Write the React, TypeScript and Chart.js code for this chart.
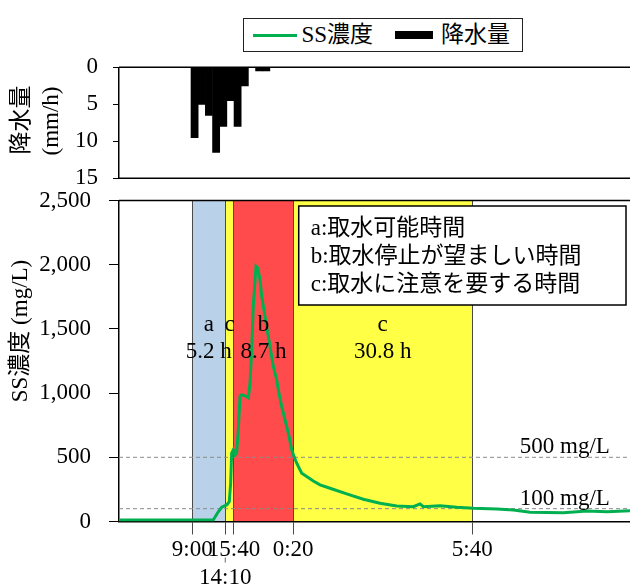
import React, { useEffect, useRef } from 'react';
import { Chart, registerables } from 'chart.js';

Chart.register(...registerables);

// ---------------- data ----------------
// x unit: hours after 9:00 as read along the time axis
const tickX = [0, 5.27, 6.66, 16.1, 44.7];
const tickLabels = ['9:00', '14:10', '15:40', '0:20', '5:40'];

// precipitation (mm/h)
const rainX = [0.37, 1.52, 2.66, 3.81, 4.95, 6.1, 7.24, 8.39, 9.53, 10.68, 11.82];
const rainMm = [9.5, 5.0, 6.5, 11.5, 8.0, 4.5, 8.0, 2.5, 0, 0.5, 0.5];

// SS concentration (mg/L)
const ssX = [-11.7, 3.35, 4.15, 4.7, 5.5, 5.91, 6.13, 6.29, 6.55, 6.82, 7.09, 7.35, 7.62, 7.89, 8.42, 8.95, 9.22, 9.49, 9.74, 10.18, 10.45, 10.81, 11.09, 11.61, 12.14, 12.94, 13.48, 13.74, 14.28, 14.81, 15.34, 15.88, 16.25, 16.68, 17.48, 18.27, 19.33, 20.4, 22.0, 24.66, 27.32, 29.98, 32.65, 35.3, 36.37, 36.9, 39.57, 42.24, 44.89, 48.63, 51.28, 53.95, 59.27, 63.0, 66.2, 69.9];
const ssVal = [12, 12, 76, 111, 129, 154, 298, 532, 558, 519, 534, 714, 973, 987, 979, 963, 1078, 1338, 1676, 1988, 1975, 1884, 1754, 1598, 1442, 1208, 1104, 1026, 895, 792, 688, 558, 505, 454, 376, 350, 315, 285, 259, 215, 173, 142, 121, 115, 137, 115, 123, 111, 103, 98, 90, 72, 69, 82, 76, 84];

// periods between consecutive ticks
const regionKinds = ['a', 'c', 'b', 'c'];
const regionDurations = ['5.2 h', '', '8.7 h', '30.8 h'];

const thresholds = [500, 100];
const thresholdLabels = ['500 mg/L', '100 mg/L'];

const infoLines = ['a:取水可能時間', 'b:取水停止が望ましい時間', 'c:取水に注意を要する時間'];

const X_MIN = -11.7;
const X_MAX = 69.9;

// ---------------- styles ----------------
const FONT = "'Liberation Serif', 'Times New Roman', 'Noto Sans CJK JP', serif";
const FS = 23;
const GREEN = '#00B050';
const REGION_COLORS: Record<string, string> = { a: '#BAD1EA', b: '#FF4B4B', c: '#FFFF45' };

const W = 630;
const TOP_H = 196;
const BOT_TOP = 180;
const BOT_H = 405;

const noPad = (s: any) => {
  s.paddingTop = 0;
  s.paddingBottom = 0;
  s.paddingLeft = 0;
  s.paddingRight = 0;
};

const topPlugin = {
  id: 'topDecor',
  afterDraw(chart: any) {
    const { ctx, chartArea: ca } = chart;
    ctx.save();
    ctx.strokeStyle = '#000';
    ctx.lineWidth = 1.5;
    ctx.beginPath();
    ctx.moveTo(ca.left, ca.top);
    ctx.lineTo(ca.right, ca.top);
    ctx.moveTo(ca.left, ca.bottom);
    ctx.lineTo(ca.right, ca.bottom);
    ctx.stroke();
    ctx.fillStyle = '#000';
    ctx.font = `${FS}px ${FONT}`;
    ctx.textAlign = 'center';
    ctx.textBaseline = 'middle';
    ctx.save();
    ctx.translate(22, 120);
    ctx.rotate(-Math.PI / 2);
    ctx.fillText('降水量', 0, 0);
    ctx.restore();
    ctx.save();
    ctx.translate(52, 121);
    ctx.rotate(-Math.PI / 2);
    ctx.fillText('(mm/h)', 0, 0);
    ctx.restore();
    ctx.restore();
  },
};

const bottomPlugin = {
  id: 'ssDecor',
  beforeDraw(chart: any) {
    const { ctx, chartArea: ca, scales } = chart;
    const x = scales.x;
    ctx.save();
    regionKinds.forEach((k, i) => {
      const x0 = x.getPixelForValue(tickX[i]);
      const x1 = x.getPixelForValue(tickX[i + 1]);
      ctx.fillStyle = REGION_COLORS[k];
      ctx.fillRect(x0, ca.top, x1 - x0, ca.bottom - ca.top);
    });
    ctx.restore();
  },
  afterDraw(chart: any) {
    const { ctx, chartArea: ca, scales } = chart;
    const x = scales.x;
    const y = scales.y;
    ctx.save();
    // top frame line
    ctx.strokeStyle = '#000';
    ctx.lineWidth = 1.5;
    ctx.beginPath();
    ctx.moveTo(ca.left, ca.top);
    ctx.lineTo(ca.right, ca.top);
    ctx.stroke();

    ctx.fillStyle = '#000';
    ctx.font = `${FS}px ${FONT}`;
    ctx.textAlign = 'center';
    ctx.textBaseline = 'middle';
    // period labels
    regionKinds.forEach((k, i) => {
      const cx = (x.getPixelForValue(tickX[i]) + x.getPixelForValue(tickX[i + 1])) / 2;
      ctx.fillText(k, cx, y.getPixelForValue(1530));
      if (regionDurations[i]) ctx.fillText(regionDurations[i], cx, y.getPixelForValue(1320));
    });
    // threshold labels
    ctx.textBaseline = 'alphabetic';
    thresholds.forEach((t, i) => {
      ctx.fillText(thresholdLabels[i], x.getPixelForValue(59.5), y.getPixelForValue(t) - 4);
    });
    // info box
    const bx = x.getPixelForValue(17.0);
    const by = ca.top + 5.5;
    const bw = ca.right - 4 - bx;
    const bh = 99;
    ctx.fillStyle = '#fff';
    ctx.fillRect(bx, by, bw, bh);
    ctx.strokeStyle = '#000';
    ctx.lineWidth = 1.5;
    ctx.strokeRect(bx, by, bw, bh);
    ctx.fillStyle = '#000';
    ctx.textAlign = 'left';
    ctx.textBaseline = 'middle';
    infoLines.forEach((line, i) => {
      ctx.fillText(line, bx + 12, by + 23 + i * 28);
    });
    // small mark above the second-row tick label
    const mx = x.getPixelForValue(tickX[1]);
    ctx.strokeStyle = '#666';
    ctx.lineWidth = 1;
    ctx.beginPath();
    ctx.moveTo(mx, ca.bottom + 36);
    ctx.lineTo(mx, ca.bottom + 41);
    ctx.stroke();
    // y title
    ctx.textAlign = 'center';
    ctx.save();
    ctx.translate(21, 331 - BOT_TOP);
    ctx.rotate(-Math.PI / 2);
    ctx.fillText('SS濃度 (mg/L)', 0, 0);
    ctx.restore();
    ctx.restore();
  },
};

function TopChart() {
  const ref = useRef<HTMLCanvasElement>(null);
  useEffect(() => {
    const chart = new Chart(ref.current!, {
      type: 'bar',
      data: {
        datasets: [
          {
            label: '降水量',
            data: rainX.map((v, i) => ({ x: v, y: rainMm[i] })),
            backgroundColor: '#000',
            borderWidth: 0,
            barPercentage: 1,
            categoryPercentage: 1,
          },
        ],
      },
      options: {
        responsive: false,
        animation: false,
        layout: { padding: { top: 67.3, bottom: TOP_H - 178.3, left: 0, right: 0 } },
        plugins: { legend: { display: false }, tooltip: { enabled: false } },
        scales: {
          x: { type: 'linear', min: X_MIN, max: X_MAX, display: false, offset: false },
          y: {
            reverse: true,
            min: 0,
            max: 15,
            afterFit: (s: any) => { s.width = 119; noPad(s); },
            ticks: { stepSize: 5, padding: 15, color: '#000', font: { family: FONT, size: FS } },
            grid: { drawOnChartArea: false, tickLength: 6, color: '#000' },
            border: { color: '#000', width: 1.5 },
          },
        },
      },
      plugins: [topPlugin],
    } as any);
    return () => chart.destroy();
  }, []);
  return (
    <canvas ref={ref} width={W} height={TOP_H} style={{ position: 'absolute', left: 0, top: 0 }} />
  );
}

function BottomChart() {
  const ref = useRef<HTMLCanvasElement>(null);
  useEffect(() => {
    const chart = new Chart(ref.current!, {
      type: 'line',
      data: {
        datasets: [
          {
            label: 'SS濃度',
            data: ssX.map((v, i) => ({ x: v, y: ssVal[i] })),
            borderColor: GREEN,
            borderWidth: 3,
            pointRadius: 0,
            tension: 0,
            order: 1,
          },
          ...thresholds.map((t) => ({
            label: `${t}`,
            data: [{ x: X_MIN, y: t }, { x: X_MAX, y: t }],
            borderColor: '#8a8a8a',
            borderWidth: 1,
            borderDash: [4, 3],
            pointRadius: 0,
            order: 2,
          })),
        ],
      },
      options: {
        responsive: false,
        animation: false,
        layout: { padding: { top: 200.5 - BOT_TOP, left: 0, right: 0, bottom: 0 } },
        plugins: { legend: { display: false }, tooltip: { enabled: false } },
        scales: {
          x: {
            type: 'linear',
            min: X_MIN,
            max: X_MAX,
            afterFit: (s: any) => { s.height = 585 - 521.5; noPad(s); },
            afterBuildTicks: (s: any) => { s.ticks = tickX.map((v) => ({ value: v })); },
            ticks: {
              autoSkip: false,
              maxRotation: 0,
              padding: 2,
              color: '#000',
              font: { family: FONT, size: FS },
              callback: (_v: any, i: number) => (i === 1 ? ['', tickLabels[i]] : tickLabels[i]),
            },
            grid: { drawOnChartArea: true, tickLength: 13, color: '#4a4a4a', lineWidth: 1 },
            border: { color: '#000', width: 1.5 },
          },
          y: {
            min: 0,
            max: 2500,
            afterFit: (s: any) => { s.width = 119; noPad(s); },
            ticks: {
              stepSize: 500,
              padding: 18,
              color: '#000',
              font: { family: FONT, size: FS },
              callback: (v: any) => Number(v).toLocaleString('en-US'),
            },
            grid: { drawOnChartArea: false, tickLength: 10, color: '#000' },
            border: { color: '#000', width: 1.5 },
          },
        },
      },
      plugins: [bottomPlugin],
    } as any);
    return () => chart.destroy();
  }, []);
  return (
    <canvas ref={ref} width={W} height={BOT_H} style={{ position: 'absolute', left: 0, top: BOT_TOP }} />
  );
}

function Legend() {
  return (
    <div
      style={{
        position: 'absolute',
        left: 243,
        top: 18,
        width: 280,
        height: 34,
        boxSizing: 'border-box',
        border: '1.5px solid #222',
        display: 'flex',
        alignItems: 'center',
        fontFamily: FONT,
        fontSize: FS,
        color: '#000',
        whiteSpace: 'nowrap',
        background: '#fff',
      }}
    >
      <span style={{ display: 'inline-block', width: 44, height: 3, background: GREEN, marginLeft: 8.5 }} />
      <span style={{ marginLeft: 5, lineHeight: '30px' }}>SS濃度</span>
      <span style={{ display: 'inline-block', width: 38, height: 8, background: '#000', marginLeft: 22 }} />
      <span style={{ marginLeft: 8, lineHeight: '30px' }}>降水量</span>
    </div>
  );
}

export default function App() {
  return (
    <div style={{ position: 'absolute', left: 0, top: 0, width: W, height: 585, background: '#fff', overflow: 'hidden' }}>
      <TopChart />
      <BottomChart />
      <Legend />
    </div>
  );
}
